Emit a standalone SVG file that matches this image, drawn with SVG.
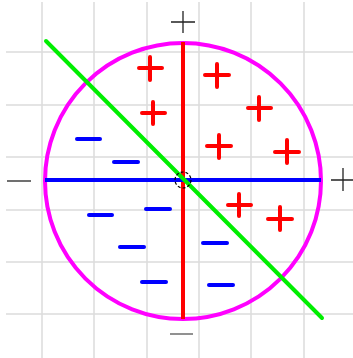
<svg xmlns="http://www.w3.org/2000/svg" width="353" height="358" viewBox="0 0 353 358">
<style>
.grid{stroke:#dcdcdc;stroke-width:1.5;fill:none}
.ax{stroke:#222;stroke-width:1.3;fill:none}
.pl{stroke:#ff0000;stroke-width:4;stroke-linecap:round;fill:none}
.mi{stroke:#0000ff;stroke-width:4;stroke-linecap:round;fill:none}
</style>
<rect width="353" height="358" fill="#fff"/>
<g id="grid" class="grid">
<path d="M42 2V358M94 2V358M147 2V358M199 2V358M251 2V358M304 2V358"/>
<path d="M6 52H353M6 105H353M6 157H353M6 210H353M6 262H353M6 314H353"/>
</g>
<g id="circle"><circle cx="183" cy="181" r="138" fill="none" stroke="#ff00ff" stroke-width="4"/></g>
<g id="connectors">
<line x1="183" y1="42" x2="183" y2="319" stroke="#ff0000" stroke-width="4"/>
<line x1="45" y1="180" x2="321" y2="180" stroke="#0000ff" stroke-width="4"/>
<line x1="46" y1="41" x2="322" y2="318" stroke="#00ee00" stroke-width="4" stroke-linecap="round"/>
<circle cx="183" cy="180" r="8" fill="none" stroke="#000" stroke-width="1.2" stroke-dasharray="3,2"/>
</g>
<g id="axis-labels" class="ax">
<path d="M171 22H195M183 11V33"/>
<path d="M331 180H354M343 168V191"/>
<path d="M7 181H31"/>
<path d="M170 334H193" stroke="#555"/>
</g>
<g id="plus" class="pl">
<path d="M139 68H162M150 57V80"/>
<path d="M142 113H165M153 102V124"/>
<path d="M205 75H229M217 64V87"/>
<path d="M248 108H271M259 97V120"/>
<path d="M207 146H231M219 135V158"/>
<path d="M275 152H299M287 140V163"/>
<path d="M228 205H251M239 194V216"/>
<path d="M268 219H292M280 207V230"/>
</g>
<g id="minus" class="mi">
<path d="M77 139H100"/>
<path d="M114 162H138"/>
<path d="M89 215H112"/>
<path d="M146 209H170"/>
<path d="M120 247H144"/>
<path d="M142 282H166"/>
<path d="M203 243H227"/>
<path d="M209 285H233"/>
</g>
</svg>
